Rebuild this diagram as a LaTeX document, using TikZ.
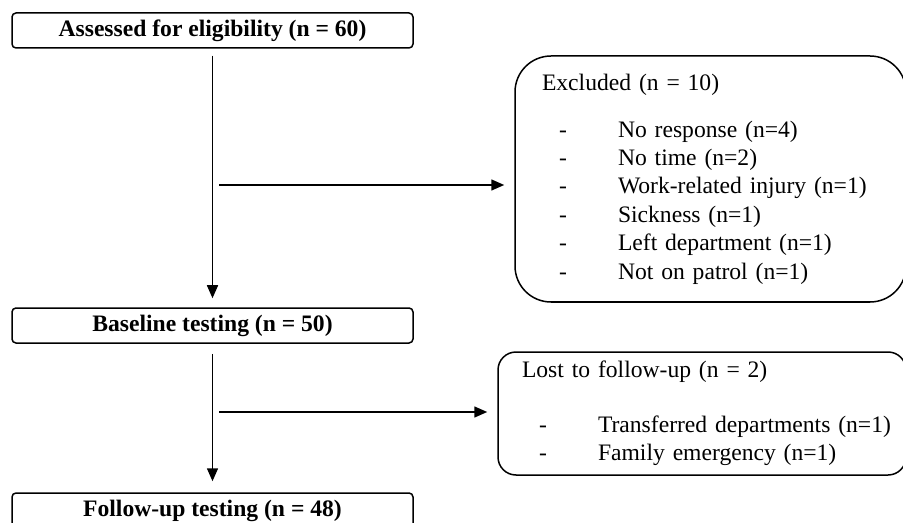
\documentclass[tikz,border=0pt]{standalone}
\usepackage{fontspec}
\setmainfont{Liberation Serif}
\usetikzlibrary{arrows.meta}
\tikzset{
 mainbox/.style={draw,line width=0.75pt,rounded corners=2pt,minimum width=200.5pt,minimum height=17.5pt,inner sep=0pt,font=\fontsize{11.8pt}{14.2pt}\selectfont\bfseries},
 sidebox/.style={draw,line width=0.75pt,align=left,inner ysep=0pt,font=\fontsize{11.8pt}{14.2pt}\selectfont},
 arr/.style={line width=0.75pt,-{Triangle[length=6.5pt,width=5.5pt]}},
}
\newcommand{\itm}[1]{\makebox[38pt][l]{\hspace{8.5pt}-}\mbox{#1}}
\begin{document}
\begin{tikzpicture}[x=0.5pt,y=-0.5pt]
 \useasboundingbox (0,0) rectangle (903,523);
 \node[mainbox] (assess) at (212.5,30.5) {Assessed for eligibility (n = 60)};
 \node[mainbox] (base) at (212.5,325.5) {Baseline testing (n = 50)};
 \node[mainbox] (follow) at (212.5,510.5) {Follow-up testing (n = 48)};
 \node[sidebox,rounded corners=18pt,text width=168.5pt,inner xsep=13.5pt,minimum height=123pt] (excl) at (710.5,179)
  {Excluded (n = 10)\\[9.3pt]
   \itm{No response (n=4)}\\
   \itm{No time (n=2)}\\
   \itm{Work-related injury (n=1)}\\
   \itm{Sickness (n=1)}\\
   \itm{Left department (n=1)}\\
   \itm{Not on patrol (n=1)}};
 \node[sidebox,rounded corners=9pt,text width=180pt,inner xsep=12pt,minimum height=61.5pt] (lost) at (702,413.5)
  {Lost to follow-up (n = 2)\\[13pt]
   \itm{Transferred departments (n=1)}\\
   \itm{Family emergency (n=1)}};
 \coordinate (x1) at (219,185);
 \coordinate (x2) at (219,412);
 \draw[arr,shorten <=3.5pt,shorten >=4.5pt] (assess.south) -- (base.north);
 \draw[arr,shorten <=5pt,shorten >=5.5pt] (base.south) -- (follow.north);
 \draw[arr,shorten >=5pt] (x1) -- (x1 -| excl.west);
 \draw[arr,shorten >=5pt] (x2) -- (x2 -| lost.west);
\end{tikzpicture}
\end{document}
